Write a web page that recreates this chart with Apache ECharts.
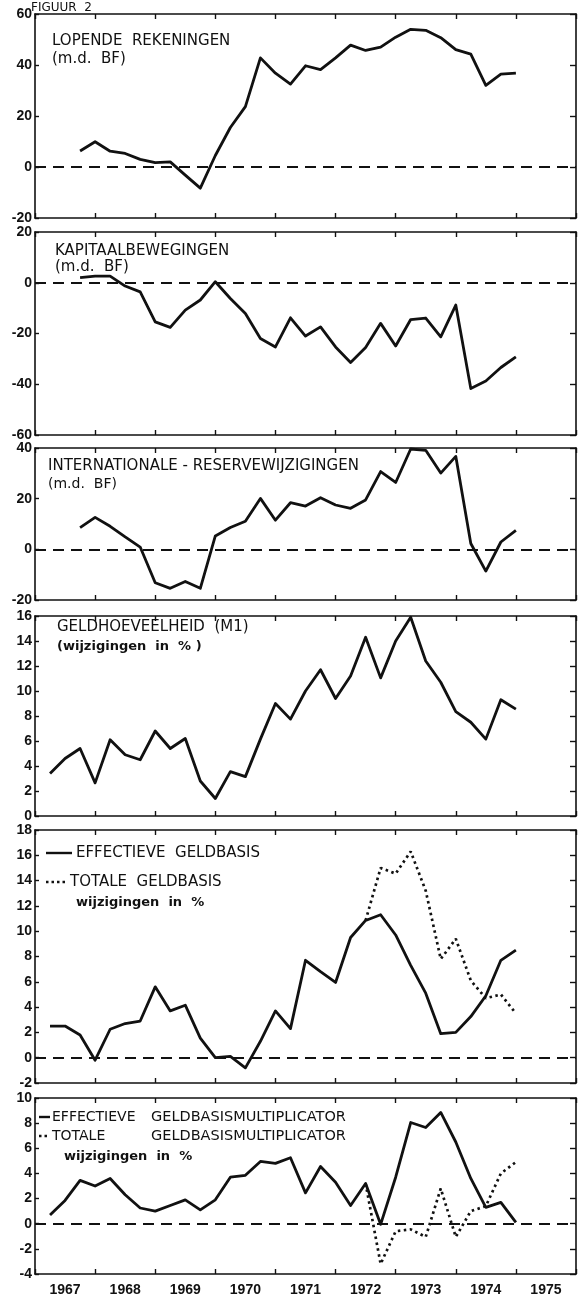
<!DOCTYPE html>
<html>
<head>
<meta charset="utf-8">
<script src="https://cdn.jsdelivr.net/npm/echarts@6/dist/echarts.min.js"></script>
<style>
  html, body { margin: 0; padding: 0; background: #ffffff; }
  #chart { width: 578px; height: 1300px; }
</style>
</head>
<body>
<div id="chart"></div>
<script>
// Quarterly observations (end-of-quarter), 1967 K1 … 1974 K4
const QUARTERS = [
  '1967 K1', '1967 K2', '1967 K3', '1967 K4',
  '1968 K1', '1968 K2', '1968 K3', '1968 K4',
  '1969 K1', '1969 K2', '1969 K3', '1969 K4',
  '1970 K1', '1970 K2', '1970 K3', '1970 K4',
  '1971 K1', '1971 K2', '1971 K3', '1971 K4',
  '1972 K1', '1972 K2', '1972 K3', '1972 K4',
  '1973 K1', '1973 K2', '1973 K3', '1973 K4',
  '1974 K1', '1974 K2', '1974 K3', '1974 K4'
];
const YEARS = ['1967', '1968', '1969', '1970', '1971', '1972', '1973', '1974', '1975'];

// Lopende rekeningen (md. BF)
const lopendeRekeningen = [null, null,
  6.3, 9.9, 6.2, 5.3, 3.0, 1.7, 2.0, -3.2, -8.3, 4.5,
  15.5, 23.7, 42.8, 36.8, 32.5, 39.7, 38.2, 42.8, 47.8, 45.7,
  47.0, 50.9, 54.0, 53.6, 50.7, 46.0, 44.3, 32.0, 36.4, 36.8];

// Kapitaalbewegingen (md. BF)
const kapitaalbewegingen = [null, null,
  2.0, 2.6, 2.6, -1.3, -3.6, -15.4, -17.6, -10.8, -6.8, 0.4,
  -6.2, -12.1, -22.0, -25.3, -13.8, -21.0, -17.4, -25.3, -31.4, -25.5,
  -16.0, -24.9, -14.5, -13.9, -21.3, -8.8, -41.7, -38.7, -33.4, -29.2];

// Internationale reservewijzigingen (md. BF)
const reservewijzigingen = [null, null,
  8.6, 12.6, 9.1, 4.9, 0.9, -13.2, -15.4, -12.7, -15.4, 5.3,
  8.6, 11.1, 20.1, 11.5, 18.4, 17.1, 20.4, 17.5, 16.2, 19.5,
  30.7, 26.4, 39.6, 39.1, 30.1, 36.7, 2.3, -8.6, 2.9, 7.5];

// Geldhoeveelheid M1 (wijzigingen in %)
const geldhoeveelheid = [
  3.4, 4.6, 5.4, 2.65, 6.1, 4.9, 4.5, 6.8, 5.4, 6.2,
  2.8, 1.4, 3.55, 3.15, 6.15, 9.0, 7.75, 10.0, 11.7, 9.4,
  11.2, 14.3, 11.05, 14.0, 15.9, 12.4, 10.7, 8.35, 7.5, 6.15,
  9.3, 8.55];

// Effectieve en totale geldbasis (wijzigingen in %)
const effectieveGeldbasis = [
  2.5, 2.5, 1.8, -0.2, 2.25, 2.7, 2.9, 5.6, 3.7, 4.15,
  1.55, 0.0, 0.1, -0.8, 1.3, 3.7, 2.3, 7.7, 6.8, 5.95,
  9.5, 10.85, 11.3, 9.7, 7.3, 5.1, 1.9, 2.0, 3.25, 4.9,
  7.7, 8.5];
const totaleGeldbasis = [
  null, null, null, null, null, null, null, null, null, null,
  null, null, null, null, null, null, null, null, null, null,
  null, 10.85, 15.0, 14.55, 16.3, 13.2, 7.8, 9.4, 6.1, 4.7,
  5.0, 3.5];

// Effectieve en totale geldbasismultiplicator (wijzigingen in %)
const effectieveMultiplicator = [
  0.7, 1.85, 3.45, 3.0, 3.6, 2.3, 1.25, 1.0, 1.45, 1.9,
  1.1, 1.9, 3.7, 3.85, 4.95, 4.8, 5.25, 2.45, 4.55, 3.3,
  1.45, 3.2, -0.05, 3.7, 8.05, 7.65, 8.85, 6.5, 3.6, 1.3,
  1.7, 0.1];
const totaleMultiplicator = [
  null, null, null, null, null, null, null, null, null, null,
  null, null, null, null, null, null, null, null, null, null,
  null, 3.2, -3.2, -0.6, -0.45, -1.05, 2.8, -1.05, 1.0, 1.4,
  4.0, 4.9];

// Value-axis ranges per panel
const Y_RANGES = [
  { min: -20, max: 60, interval: 20 },
  { min: -60, max: 20, interval: 20 },
  { min: -20, max: 40, interval: 20 },
  { min: 0, max: 16, interval: 2 },
  { min: -2, max: 18, interval: 2 },
  { min: -4, max: 10, interval: 2 }
];

// ---------- drawing ----------
const INK = '#111111';
const LABEL_FONT = 'Liberation Sans';
const TEXT_FONT = 'DejaVu Sans';

// end-of-quarter position on the time axis, e.g. '1968 K2' -> 1968.5
function quarterPos(label) {
  const parts = label.split(' K');
  return Number(parts[0]) + Number(parts[1]) / 4;
}
function pairs(values) {
  return QUARTERS.map((q, i) => [quarterPos(q), values[i]]);
}

const panels = [
  { top: 14, height: 204 },
  { top: 232, height: 203 },
  { top: 448, height: 152 },
  { top: 616, height: 200 },
  { top: 830, height: 253 },
  { top: 1098, height: 176 }
];

const grid = panels.map(p => ({
  left: 35, right: 2, top: p.top, height: p.height,
  containLabel: false, outerBoundsMode: 'none'
}));

const xAxis = [];
const yAxis = [];
panels.forEach((p, i) => {
  ['bottom', 'top'].forEach(pos => {
    xAxis.push({
      type: 'value', gridIndex: i, position: pos,
      min: 1967, max: 1976, interval: 1,
      axisLine: { show: true, onZero: false, lineStyle: { color: INK, width: 1.6 } },
      axisTick: { show: true, inside: true, length: 5, lineStyle: { color: INK, width: 1.4 } },
      axisLabel: { show: false },
      splitLine: { show: false }
    });
  });
  const r = Y_RANGES[i];
  yAxis.push({
    type: 'value', gridIndex: i, position: 'left',
    min: r.min, max: r.max, interval: r.interval,
    axisLine: { show: true, onZero: false, lineStyle: { color: INK, width: 1.6 } },
    axisTick: { show: true, inside: true, length: 4, lineStyle: { color: INK, width: 1.4 } },
    axisLabel: {
      show: true, margin: 3, color: INK, fontFamily: LABEL_FONT,
      fontWeight: 'bold', fontSize: 14, showMinLabel: true, showMaxLabel: true,
      hideOverlap: false
    },
    splitLine: { show: false }
  });
  yAxis.push({
    type: 'value', gridIndex: i, position: 'right',
    min: r.min, max: r.max, interval: r.interval,
    axisLine: { show: true, onZero: false, lineStyle: { color: INK, width: 1.6 } },
    axisTick: { show: true, inside: true, length: 6, lineStyle: { color: INK, width: 1.4 } },
    axisLabel: { show: false },
    splitLine: { show: false }
  });
});

// calendar-year labels under the last panel
const yearAxisIndex = xAxis.length;
xAxis.push({
  type: 'category', gridIndex: 5, position: 'bottom', data: YEARS,
  boundaryGap: true,
  axisLine: { show: false }, axisTick: { show: false },
  axisLabel: {
    show: true, margin: 9, color: INK, fontFamily: LABEL_FONT,
    fontWeight: 'bold', fontSize: 14, interval: 0
  },
  splitLine: { show: false }
});

const zeroLine = {
  silent: true, symbol: 'none', label: { show: false },
  lineStyle: { type: [11, 7], color: INK, width: 2 },
  data: [{ yAxis: 0 }]
};

function lineSeries(name, panel, values, dotted, withZero) {
  const s = {
    name, type: 'line', xAxisIndex: panel * 2, yAxisIndex: panel * 2,
    data: pairs(values), showSymbol: false, symbol: 'none',
    connectNulls: false, clip: false,
    lineStyle: dotted
      ? { color: INK, width: 2.7, type: [2.5, 3.5], cap: 'butt' }
      : { color: INK, width: 2.8, join: 'round' },
    z: 3
  };
  if (withZero) s.markLine = zeroLine;
  return s;
}

const series = [
  lineSeries('Lopende rekeningen', 0, lopendeRekeningen, false, true),
  lineSeries('Kapitaalbewegingen', 1, kapitaalbewegingen, false, true),
  lineSeries('Internationale reservewijzigingen', 2, reservewijzigingen, false, true),
  lineSeries('Geldhoeveelheid (M1)', 3, geldhoeveelheid, false, false),
  lineSeries('Effectieve geldbasis', 4, effectieveGeldbasis, false, true),
  lineSeries('Totale geldbasis', 4, totaleGeldbasis, true, false),
  lineSeries('Effectieve geldbasismultiplicator', 5, effectieveMultiplicator, false, true),
  lineSeries('Totale geldbasismultiplicator', 5, totaleMultiplicator, true, false)
];
// the category axis needs a (empty) series bound to it to render
series.push({
  type: 'line', xAxisIndex: yearAxisIndex, yAxisIndex: 10,
  data: [], silent: true
});

function txt(x, y, text, size, weight) {
  return {
    type: 'text', x, y, silent: true,
    style: {
      text, fill: INK, fontFamily: TEXT_FONT, fontSize: size,
      fontWeight: weight || 'normal', verticalAlign: 'middle'
    }
  };
}
function swatch(x1, x2, y, dotted) {
  return {
    type: 'line', silent: true,
    shape: { x1, y1: y, x2, y2: y },
    style: { stroke: INK, lineWidth: 2.4, lineDash: dotted ? [2.5, 3] : null }
  };
}

const graphic = [
  txt(31, 8, 'FIGUUR  2', 12),
  txt(52, 41, 'LOPENDE  REKENINGEN', 15),
  txt(52, 59, '(m.d.  BF)', 15),
  txt(55, 251, 'KAPITAALBEWEGINGEN', 15),
  txt(55, 267, '(m.d.  BF)', 15),
  txt(48, 466, 'INTERNATIONALE - RESERVEWIJZIGINGEN', 15),
  txt(48, 484, '(m.d.  BF)', 14),
  txt(57, 627, 'GELDHOEVEELHEID  (M1)', 15),
  txt(57, 647, '(wijzigingen  in  % )', 13, 'bold'),
  swatch(46, 72, 853, false),
  txt(76, 853, 'EFFECTIEVE  GELDBASIS', 15),
  swatch(46, 68, 882, true),
  txt(70, 882, 'TOTALE  GELDBASIS', 15),
  txt(76, 903, 'wijzigingen  in  %', 13, 'bold'),
  swatch(39, 50, 1117, false),
  txt(52, 1117, 'EFFECTIEVE', 14),
  txt(151, 1117, 'GELDBASISMULTIPLICATOR', 14.5),
  swatch(39, 50, 1136, true),
  txt(52, 1136, 'TOTALE', 14),
  txt(151, 1136, 'GELDBASISMULTIPLICATOR', 14.5),
  txt(64, 1157, 'wijzigingen  in  %', 13, 'bold')
];

const chart = echarts.init(document.getElementById('chart'), null, { renderer: 'canvas' });
chart.setOption({
  animation: false,
  backgroundColor: '#ffffff',
  grid, xAxis, yAxis, series, graphic
});
</script>
</body>
</html>
